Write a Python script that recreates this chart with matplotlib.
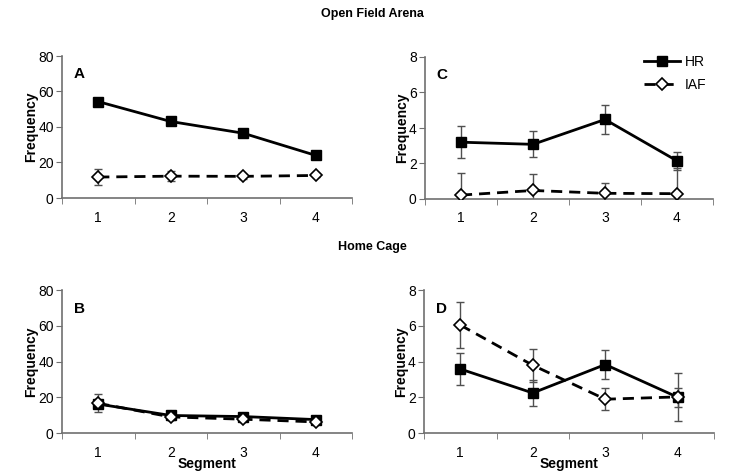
import numpy as np
import matplotlib
matplotlib.use("Agg")
import matplotlib.pyplot as plt

plt.rcParams['font.family'] = ['Liberation Sans', 'DejaVu Sans']

segments = [1, 2, 3, 4]

# Open field arena
a_hr = [54.3, 43.1, 36.5, 24.0]
a_hr_err = [1.2, 1.0, 1.0, 1.0]
a_iaf = [11.8, 12.3, 12.2, 12.7]
a_iaf_err = [4.5, 3.0, 1.5, 1.0]

c_hr = [3.2, 3.08, 4.48, 2.15]
c_hr_err = [0.9, 0.73, 0.8, 0.5]
c_iaf = [0.22, 0.48, 0.32, 0.3]
c_iaf_err = [1.26, 0.92, 0.6, 1.42]

# Home cage
b_hr = [16.2, 9.8, 9.2, 7.5]
b_hr_err = [1.5, 1.0, 1.0, 1.0]
b_iaf = [16.6, 9.0, 7.7, 6.2]
b_iaf_err = [5.0, 1.5, 1.2, 1.0]

d_hr = [3.58, 2.24, 3.83, 2.0]
d_hr_err = [0.92, 0.72, 0.83, 0.52]
d_iaf = [6.04, 3.79, 1.89, 2.02]
d_iaf_err = [1.27, 0.92, 0.6, 1.35]

W, H = 745, 473
fig = plt.figure(figsize=(W / 100, H / 100), dpi=100)

def make_ax(left, right, top, bottom):
    return fig.add_axes([left / W, (H - bottom) / H, (right - left) / W, (bottom - top) / H])

axis_col = '#707070'
err_col = '#505050'

def draw(ax, hr, hr_err, iaf, iaf_err, ymax, letter, xlabel=False):
    ax.errorbar(segments, iaf, yerr=iaf_err, fmt='none', ecolor=err_col,
                elinewidth=1, capsize=3, capthick=1, zorder=2)
    ax.errorbar(segments, hr, yerr=hr_err, fmt='none', ecolor=err_col,
                elinewidth=1, capsize=3, capthick=1, zorder=2)
    ax.plot(segments, hr, color='black', lw=2, marker='s', ms=7.5,
            mfc='black', mec='black', label='HR', zorder=3)
    ax.plot(segments, iaf, color='black', lw=2, ls=(0, (4, 2.5)), marker='D', ms=6.5,
            mfc='white', mec='black', mew=1.2, label='IAF', zorder=4)
    ax.set_xlim(0.5, 4.5)
    ax.set_ylim(0, ymax)
    ax.set_yticks(np.linspace(0, ymax, 5))
    ax.set_xticks(segments)
    ax.set_xticks([0.5, 1.5, 2.5, 3.5, 4.5], minor=True)
    ax.tick_params(axis='x', which='major', length=0, pad=9, labelsize=10)
    ax.tick_params(axis='x', which='minor', length=4, color=axis_col, direction='out')
    ax.tick_params(axis='y', length=4, color=axis_col, labelsize=10, pad=2)
    for s in ['top', 'right']:
        ax.spines[s].set_visible(False)
    for s in ['left', 'bottom']:
        ax.spines[s].set_color(axis_col)
        ax.spines[s].set_linewidth(1.2)
    ax.set_ylabel('Frequency', fontsize=10, fontweight='bold', labelpad=0)
    if xlabel:
        ax.set_xlabel('Segment', fontsize=10, fontweight='bold', labelpad=-2)
    ax.text(0.04, 0.87, letter, transform=ax.transAxes, fontsize=11,
            fontweight='bold', va='center', ha='left')

ax_a = make_ax(62, 352, 56, 198)
ax_c = make_ax(425, 713, 57, 199)
ax_b = make_ax(62, 352, 290, 433)
ax_d = make_ax(424, 714, 290, 433)

draw(ax_a, a_hr, a_hr_err, a_iaf, a_iaf_err, 80, 'A')
draw(ax_c, c_hr, c_hr_err, c_iaf, c_iaf_err, 8, 'C')
draw(ax_b, b_hr, b_hr_err, b_iaf, b_iaf_err, 80, 'B', xlabel=True)
draw(ax_d, d_hr, d_hr_err, d_iaf, d_iaf_err, 8, 'D', xlabel=True)

ax_c.legend(loc='upper right', bbox_to_anchor=(1.02, 1.1), frameon=False,
            numpoints=1, handlelength=2.6, fontsize=10, labelspacing=0.6,
            handletextpad=0.3)

fig.text(372 / W, 1 - 14 / H, 'Open Field Arena', ha='center', va='center',
         fontsize=9, fontweight='bold')
fig.text(372 / W, 1 - 247 / H, 'Home Cage', ha='center', va='center',
         fontsize=9, fontweight='bold')

fig.savefig('out.png', dpi=100)
